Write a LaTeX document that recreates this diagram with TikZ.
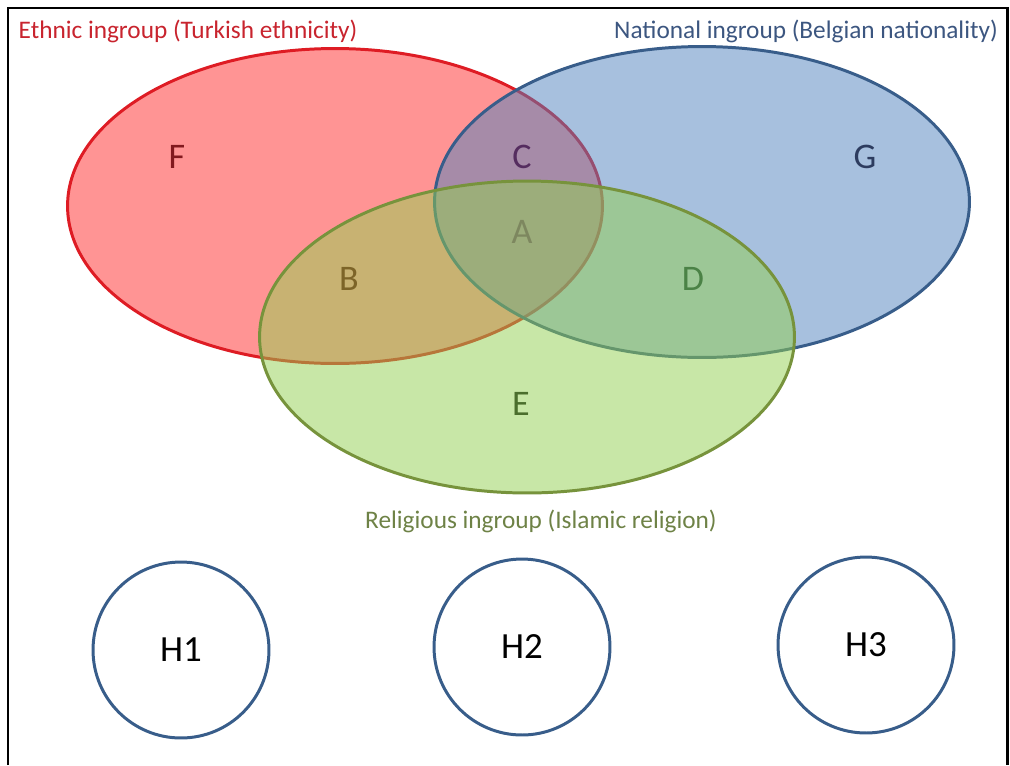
\documentclass[tikz,border=0pt]{standalone}
\usepackage{fontspec}
\setmainfont{Carlito}
\usetikzlibrary{shapes.geometric}

\definecolor{ethnicline}{RGB}{222,28,36}
\definecolor{nationfill}{RGB}{79,129,189}
\definecolor{nationline}{RGB}{56,93,138}
\definecolor{religfill}{RGB}{146,208,80}
\definecolor{religline}{RGB}{119,147,60}

\begin{document}
\begin{tikzpicture}[x=0.02cm, y=-0.02cm,
    setshape/.style={ellipse, line width=1.7pt, minimum width=10.7cm, minimum height=6.3cm, inner sep=0pt},
    letter/.style={inner sep=0pt, font=\fontsize{20.5}{24}\selectfont},
    title/.style={inner sep=0pt, font=\fontsize{14.4}{17}\selectfont},
    hyp/.style={circle, draw=nationline, line width=1.7pt, minimum size=3.52cm, inner sep=0pt, font=\fontsize{21}{25}\selectfont}]

                    \useasboundingbox (0,0) rectangle (1010,765);

                    % Frame
                    \draw[line width=1.7pt] (8,765) -- (8,8) -- (1007,8) -- (1007,765);

                    % Three sets
                    \node[setshape, fill=red, fill opacity=0.42, draw=ethnicline] (ethnic) at (335,206) {};
                    \node[setshape, fill=nationfill, fill opacity=0.5, draw=nationline, minimum height=6.22cm] (nation) at (702,202) {};
                    \node[setshape, fill=religfill, fill opacity=0.5, draw=religline, minimum height=6.24cm] (relig) at (527,337) {};

                    % Set titles
                    \node[title, text={rgb,255:red,200;green,36;blue,46}] (ethnictitle) at (188,31) {Ethnic ingroup (Turkish ethnicity)};
                    \node[title, text={rgb,255:red,60;green,86;blue,128}] (nationtitle) at (806,31) {National ingroup (Belgian nationality)};
                    \node[title, text={rgb,255:red,110;green,130;blue,70}] (religtitle) at (541,521) {Religious ingroup (Islamic religion)};

                    % Regions
                    \node[letter, text={rgb,255:red,130;green,25;blue,30}] (F) at (177,157) {F};
                    \node[letter, text={rgb,255:red,85;green,45;blue,95}] (C) at (522,157) {C};
                    \node[letter, text={rgb,255:red,45;green,60;blue,95}] (G) at (865,157) {G};
                    \node[letter, text={rgb,255:red,125;green,135;blue,95}] (A) at (522,232) {A};
                    \node[letter, text={rgb,255:red,125;green,100;blue,40}] (B) at (349,279) {B};
                    \node[letter, text={rgb,255:red,75;green,130;blue,70}] (D) at (693,279) {D};
                    \node[letter, text={rgb,255:red,75;green,110;blue,45}] (E) at (521,404) {E};

                    % Hypotheses
                    \node[hyp] (H1) at (181,650) {H1};
                    \node[hyp] (H2) at (522,647) {H2};
                    \node[hyp] (H3) at (866,645) {H3};

                    \end{tikzpicture}
\end{document}
